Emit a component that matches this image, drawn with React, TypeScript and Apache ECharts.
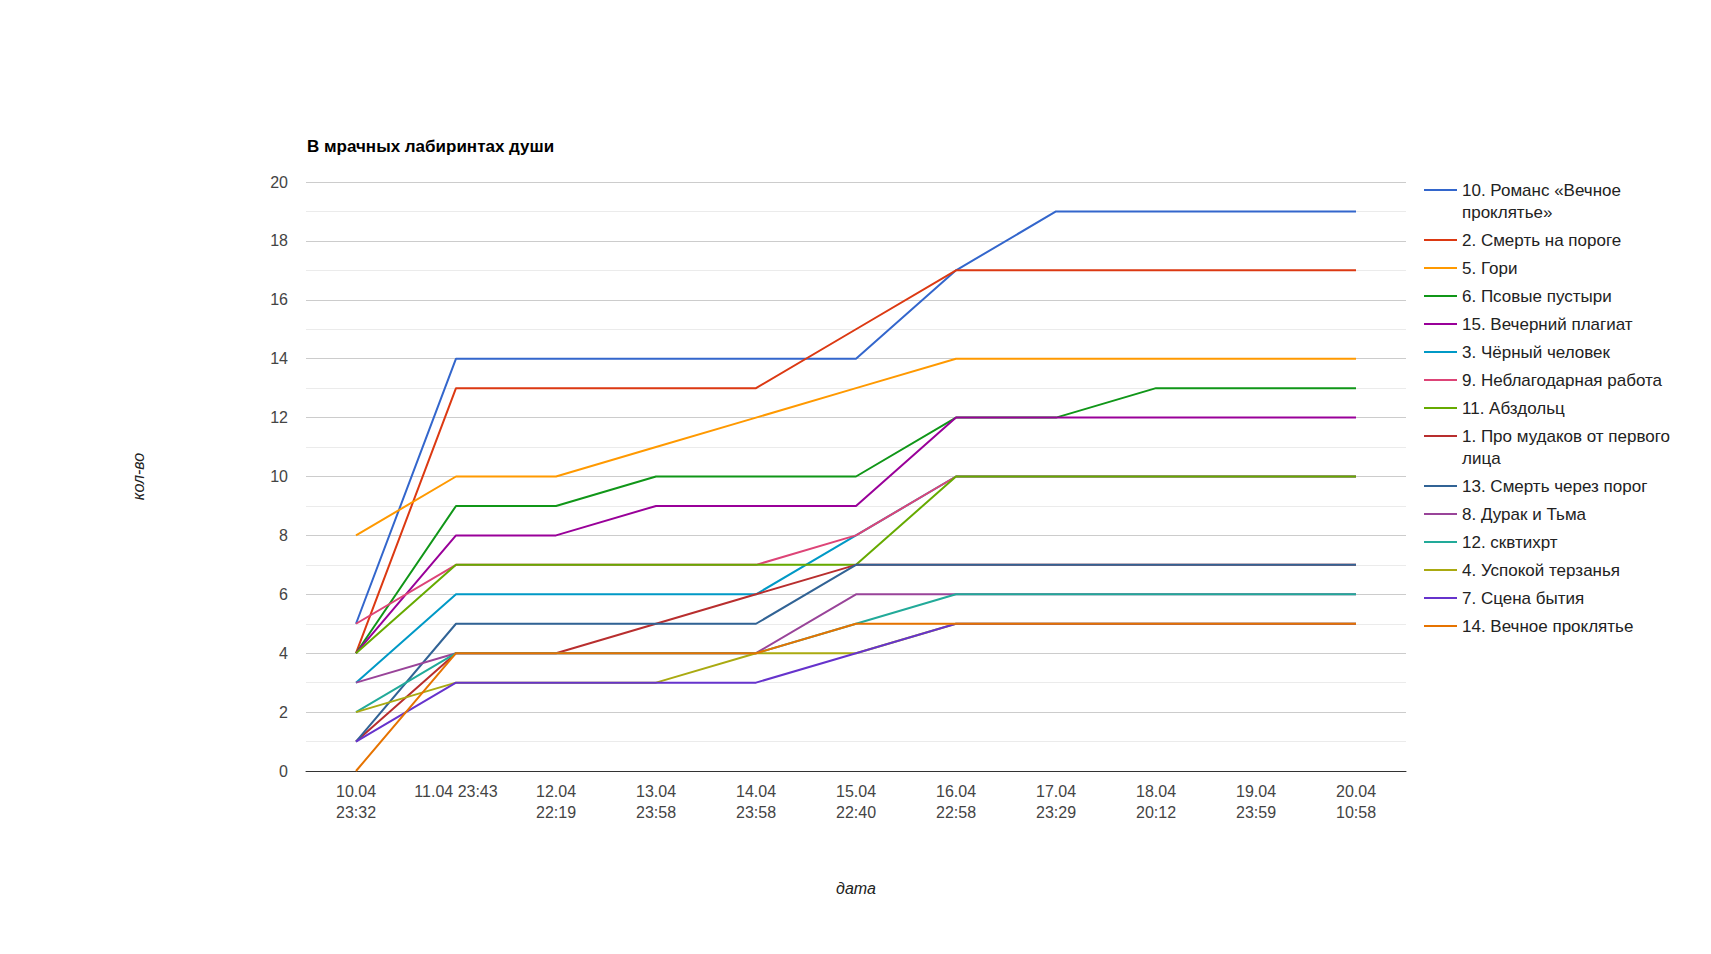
import React, { useEffect, useRef } from "react";
import * as echarts from "echarts";

const TITLE = "В мрачных лабиринтах души";
const X_NAME = "дата";
const Y_NAME = "кол-во";

const categories = [
  "10.04 23:32",
  "11.04 23:43",
  "12.04 22:19",
  "13.04 23:58",
  "14.04 23:58",
  "15.04 22:40",
  "16.04 22:58",
  "17.04 23:29",
  "18.04 20:12",
  "19.04 23:59",
  "20.04 10:58",
];

const seriesNames = [
  "10. Романс «Вечное проклятье»",
  "2. Смерть на пороге",
  "5. Гори",
  "6. Псовые пустыри",
  "15. Вечерний плагиат",
  "3. Чёрный человек",
  "9. Неблагодарная работа",
  "11. Абздольц",
  "1. Про мудаков от первого лица",
  "13. Смерть через порог",
  "8. Дурак и Тьма",
  "12. сквтихрт",
  "4. Успокой терзанья",
  "7. Сцена бытия",
  "14. Вечное проклятье",
];

const romance = [5, 14, 14, 14, 14, 14, 17, 19, 19, 19, 19];
const smertNaPoroge = [4, 13, 13, 13, 13, 15, 17, 17, 17, 17, 17];
const gori = [8, 10, 10, 11, 12, 13, 14, 14, 14, 14, 14];
const psovye = [4, 9, 9, 10, 10, 10, 12, 12, 13, 13, 13];
const vecherniy = [4, 8, 8, 9, 9, 9, 12, 12, 12, 12, 12];
const cherniy = [3, 6, 6, 6, 6, 8, 10, 10, 10, 10, 10];
const neblagodarnaya = [5, 7, 7, 7, 7, 8, 10, 10, 10, 10, 10];
const abzdolts = [4, 7, 7, 7, 7, 7, 10, 10, 10, 10, 10];
const proMudakov = [1, 4, 4, 5, 6, 7, 7, 7, 7, 7, 7];
const smertCherez = [1, 5, 5, 5, 5, 7, 7, 7, 7, 7, 7];
const durak = [3, 4, 4, 4, 4, 6, 6, 6, 6, 6, 6];
const skvtihrt = [2, 4, 4, 4, 4, 5, 6, 6, 6, 6, 6];
const uspokoy = [2, 3, 3, 3, 4, 4, 5, 5, 5, 5, 5];
const scena = [1, 3, 3, 3, 3, 4, 5, 5, 5, 5, 5];
const vechnoe = [0, 4, 4, 4, 4, 5, 5, 5, 5, 5, 5];

const seriesValues = [
  romance,
  smertNaPoroge,
  gori,
  psovye,
  vecherniy,
  cherniy,
  neblagodarnaya,
  abzdolts,
  proMudakov,
  smertCherez,
  durak,
  skvtihrt,
  uspokoy,
  scena,
  vechnoe,
];

const colors = [
  "#3366cc",
  "#dc3912",
  "#ff9900",
  "#109618",
  "#990099",
  "#0099c6",
  "#dd4477",
  "#66aa00",
  "#b82e2e",
  "#316395",
  "#994499",
  "#22aa99",
  "#aaaa11",
  "#6633cc",
  "#e67300",
];

const FONT = 'Arial, "Liberation Sans", sans-serif';
const LEGEND_FONT_SIZE = 17;
const LEGEND_MAX_WIDTH = 222;

// word-wrap a legend label to the legend column width
function wrapLabel(text: string): string {
  const canvas = document.createElement("canvas");
  const ctx = canvas.getContext("2d");
  if (!ctx) return text;
  ctx.font = `${LEGEND_FONT_SIZE}px Arial, "Liberation Sans", sans-serif`;
  const words = text.split(" ");
  const lines: string[] = [];
  let cur = "";
  for (const w of words) {
    const test = cur ? cur + " " + w : w;
    if (cur && ctx.measureText(test).width > LEGEND_MAX_WIDTH) {
      lines.push(cur);
      cur = w;
    } else {
      cur = test;
    }
  }
  if (cur) lines.push(cur);
  return lines.join("\n");
}

export default function App() {
  const ref = useRef<HTMLDivElement>(null);

  useEffect(() => {
    if (!ref.current) return;
    const chart = echarts.init(ref.current, undefined, { renderer: "svg" });

    const textStyle = {
      fontFamily: FONT,
      fontSize: LEGEND_FONT_SIZE,
      color: "#222222",
      lineHeight: 22,
    };
    const legendBase = {
      orient: "vertical" as const,
      left: 1424,
      padding: 0,
      itemWidth: 33,
      itemGap: 6,
      selectedMode: false,
      itemStyle: { borderWidth: 0 },
      textStyle,
      formatter: (name: string) => wrapLabel(name),
    };
    // thin line icons; the extra move-to points fix the icon box size
    const singleIcon = "path://M0,6L33,6L33,8L0,8Z M0,0L0,0 M33,14L33,14";
    const wrapIcon = "path://M0,6L33,6L33,8L0,8Z M0,0L0,0 M33,36L33,36";

    const option = {
      animation: false,
      color: colors,
      textStyle: { fontFamily: FONT },
      title: {
        text: TITLE,
        left: 307,
        top: 137,
        padding: 0,
        textStyle: {
          fontFamily: FONT,
          fontSize: 17,
          fontWeight: "bold",
          color: "#000000",
          lineHeight: 18,
        },
      },
      legend: [
        {
          ...legendBase,
          top: 179,
          itemHeight: 36,
          icon: wrapIcon,
          data: [seriesNames[0]],
        },
        {
          ...legendBase,
          top: 229,
          itemHeight: 14,
          icon: singleIcon,
          data: seriesNames.slice(1, 8),
        },
        {
          ...legendBase,
          top: 425,
          itemHeight: 36,
          icon: wrapIcon,
          data: [seriesNames[8]],
        },
        {
          ...legendBase,
          top: 475,
          itemHeight: 14,
          icon: singleIcon,
          data: seriesNames.slice(9),
        },
      ],
      grid: {
        left: 306,
        top: 182,
        width: 1100,
        height: 589,
        containLabel: false,
      },
      xAxis: {
        type: "category",
        data: categories,
        boundaryGap: true,
        name: X_NAME,
        nameLocation: "middle",
        nameGap: 108,
        nameTextStyle: {
          fontFamily: FONT,
          fontSize: 16,
          fontStyle: "italic",
          color: "#222222",
          lineHeight: 18,
        },
        axisLine: { show: true, lineStyle: { color: "#333333", width: 1 } },
        axisTick: { show: false },
        axisLabel: {
          interval: 0,
          margin: 10,
          fontFamily: FONT,
          fontSize: 16,
          lineHeight: 21,
          color: "#444444",
          formatter: (v: string, i: number) =>
            i === 1 ? v : v.replace(" ", "\n"),
        },
        splitLine: { show: false },
      },
      yAxis: {
        type: "value",
        min: 0,
        max: 20,
        interval: 2,
        name: Y_NAME,
        nameLocation: "middle",
        nameGap: 160,
        nameRotate: 90,
        nameTextStyle: {
          fontFamily: FONT,
          fontSize: 16,
          fontStyle: "italic",
          color: "#222222",
        },
        axisLine: { show: false },
        axisTick: { show: false },
        axisLabel: {
          margin: 18,
          fontFamily: FONT,
          fontSize: 16,
          color: "#444444",
        },
        splitLine: { show: true, lineStyle: { color: "#cccccc", width: 1 } },
        minorTick: { show: false, splitNumber: 2 },
        minorSplitLine: {
          show: true,
          lineStyle: { color: "#ebebeb", width: 1 },
        },
      },
      series: seriesNames.map((name, i) => ({
        name,
        type: "line",
        data: seriesValues[i],
        showSymbol: false,
        symbol: "none",
        lineStyle: { width: 2, color: colors[i] },
        itemStyle: { color: colors[i] },
        emphasis: { disabled: true },
      })),
    };

    chart.setOption(option as any);
    return () => chart.dispose();
  }, []);

  return (
    <div
      ref={ref}
      style={{
        position: "fixed",
        left: 0,
        top: 0,
        width: 1711,
        height: 954,
        background: "#ffffff",
      }}
    />
  );
}
